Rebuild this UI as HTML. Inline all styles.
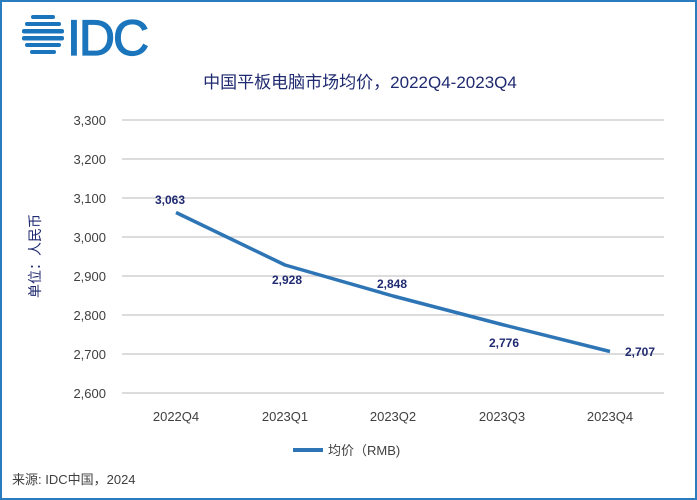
<!DOCTYPE html>
<html><head><meta charset="utf-8"><style>
body{margin:0;background:#fff}
svg{display:block;font-family:"Liberation Sans","Noto Sans CJK SC",sans-serif}
</style></head><body>
<svg width="697" height="500" viewBox="0 0 697 500">
<rect x="1" y="1" width="695" height="498" fill="#fff" stroke="#2b7bbf" stroke-width="2"/>
<g fill="#1b75bc">
<rect x="31" y="15" width="24" height="4" rx="2"/>
<rect x="25" y="22" width="36" height="4" rx="2"/>
<rect x="22" y="29" width="42" height="4.5" rx="2"/>
<rect x="22" y="36" width="42" height="4.5" rx="2"/>
<rect x="25" y="43" width="36" height="4" rx="2"/>
<rect x="30" y="50" width="26" height="4" rx="2"/>
<text x="67" y="55" font-size="50" fill="#1b75bc" stroke="#1b75bc" stroke-width="1.2" style="letter-spacing:-2px">IDC</text>
</g>
<text x="360" y="88" font-size="17" fill="#1f2a70" text-anchor="middle">中国平板电脑市场均价，2022Q4-2023Q4</text>
<g stroke="#c8c8cc" stroke-width="1.3">
<line x1="122" x2="664" y1="120" y2="120"/><line x1="122" x2="664" y1="159" y2="159"/>
<line x1="122" x2="664" y1="198" y2="198"/><line x1="122" x2="664" y1="237" y2="237"/>
<line x1="122" x2="664" y1="276" y2="276"/><line x1="122" x2="664" y1="315" y2="315"/>
<line x1="122" x2="664" y1="354" y2="354"/><line x1="122" x2="664" y1="393" y2="393"/>
</g>
<g font-size="13" fill="#404040" text-anchor="end">
<text x="106" y="125">3,300</text><text x="106" y="164">3,200</text><text x="106" y="203">3,100</text>
<text x="106" y="242">3,000</text><text x="106" y="281">2,900</text><text x="106" y="320">2,800</text>
<text x="106" y="359">2,700</text><text x="106" y="398">2,600</text>
</g>
<g font-size="13" fill="#404040" text-anchor="middle">
<text x="176" y="421">2022Q4</text><text x="285" y="421">2023Q1</text><text x="393" y="421">2023Q2</text>
<text x="502" y="421">2023Q3</text><text x="610" y="421">2023Q4</text>
</g>
<text transform="translate(40,256) rotate(-90)" font-size="14" fill="#1f2a70" text-anchor="middle">单位：人民币</text>
<polyline points="176,212.5 285,265 393,296 502,324.5 610,351.5" fill="none" stroke="#2e75b6" stroke-width="3.5" stroke-linejoin="round"/>
<g font-size="12" font-weight="bold" fill="#1f2a70" text-anchor="middle">
<text x="170" y="204">3,063</text><text x="287" y="284">2,928</text><text x="392" y="288">2,848</text>
<text x="504" y="347">2,776</text><text x="640" y="356">2,707</text>
</g>
<line x1="293" x2="323" y1="450" y2="450" stroke="#2e75b6" stroke-width="4"/>
<text x="328" y="455" font-size="13" fill="#404040">均价（RMB)</text>
<text x="12" y="484" font-size="13" fill="#404040">来源: IDC中国，2024</text>
</svg>
</body></html>
